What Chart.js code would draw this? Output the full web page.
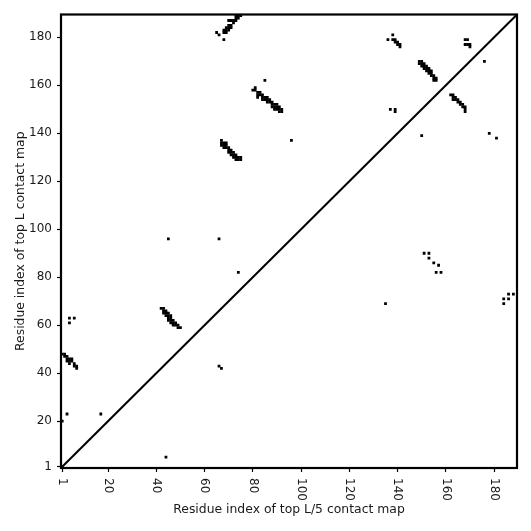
<!DOCTYPE html>
<html>
<head>
<meta charset="utf-8">
<script src="https://cdn.jsdelivr.net/npm/chart.js@4.4.1/dist/chart.umd.min.js"></script>
<style>
  html, body { margin: 0; padding: 0; background: #fff; }
  #wrap { width: 531px; height: 531px; }
</style>
</head>
<body>
<div id="wrap"><canvas id="contact_map"></canvas></div>
<script>
// Sequence length (residues 1..189)
const residueCount = 189;

// Tick positions on both axes
const tickValues = [1, 20, 40, 60, 80, 100, 120, 140, 160, 180];

// Contacts shown above the diagonal (top L), as [i, j]
const topLContacts = [
  [1, 48], [2, 48], [2, 47], [3, 47], [3, 46], [4, 46], [5, 46], [3, 45], [4, 45], [5, 45],
  [4, 44], [6, 44], [6, 43], [7, 43], [7, 42],
  [4, 63], [6, 63], [4, 61], [1, 20], [3, 23], [17, 23],
  [42, 67], [43, 67], [43, 66], [44, 66], [44, 65], [45, 65], [43, 65], [44, 64], [45, 64], [46, 64],
  [45, 63], [46, 63], [45, 62], [46, 62], [47, 62], [46, 61], [47, 61], [48, 61], [47, 60], [48, 60],
  [49, 60], [49, 59], [50, 59],
  [45, 96], [66, 96], [74, 82], [66, 43], [67, 42], [96, 137], [85, 162],
  [67, 137], [67, 136], [68, 136], [69, 136], [67, 135], [68, 135], [69, 135], [68, 134], [69, 134],
  [70, 134], [70, 133], [71, 133], [70, 132], [71, 132], [72, 132], [71, 131], [72, 131], [73, 131],
  [72, 130], [73, 130], [74, 130], [75, 130], [73, 129], [74, 129], [75, 129],
  [80, 158], [81, 158], [81, 159], [82, 157], [83, 157], [82, 156], [83, 156], [84, 156],
  [82, 155], [84, 155], [85, 155], [84, 154], [85, 154], [86, 154], [86, 155], [87, 154], [86, 153],
  [87, 153], [88, 153], [88, 152], [89, 152], [88, 151], [89, 151], [90, 152], [90, 151], [89, 150],
  [90, 150], [91, 151], [91, 150], [92, 150], [92, 149], [91, 149],
  [65, 182], [66, 181], [68, 179], [68, 182], [68, 183], [69, 182], [69, 183], [69, 184], [70, 183],
  [70, 184], [70, 185], [71, 185], [71, 184], [72, 186], [70, 187], [71, 187], [72, 187], [73, 187],
  [73, 188], [73, 189], [74, 189], [75, 189], [74, 188],
  [136, 179], [138, 181], [138, 179], [139, 179], [139, 178], [140, 178], [140, 177], [141, 177], [141, 176],
  [137, 150], [139, 150], [139, 149], [150, 139], [176, 170], [178, 140], [181, 138],
  [149, 170], [150, 170], [149, 169], [150, 169], [151, 169], [150, 168], [151, 168], [152, 168],
  [151, 167], [152, 167], [153, 167], [152, 166], [153, 166], [154, 166], [153, 165], [154, 165],
  [154, 164], [155, 164], [155, 163], [156, 163], [155, 162], [156, 162],
  [162, 156], [163, 156], [163, 155], [164, 155], [164, 154], [165, 154], [163, 154], [165, 153],
  [166, 153], [166, 152], [167, 152], [167, 151], [168, 151], [168, 150], [168, 149],
  [168, 179], [169, 179], [168, 177], [169, 177], [170, 177], [170, 176]
];

// Contacts shown below the diagonal (top L/5), as [i, j]
const topL5Contacts = [
  [44, 5], [135, 69], [151, 90], [153, 90], [153, 88], [155, 86], [157, 85], [156, 82], [158, 82],
  [184, 69], [184, 71], [186, 71], [186, 73], [188, 73]
];

const axisMin = 0.5;
const axisMax = residueCount + 0.5;

const textColor = "#1a1a1a";
Chart.defaults.font.family = "'DejaVu Sans', sans-serif";
Chart.defaults.color = textColor;

// one residue -> one square cell, sized from the x scale
// (a touch larger so neighbouring cells join without grey seams)
function cell_radius(ctx) {
  const sx = ctx.chart.scales.x;
  if (!sx) return 1;
  const side = Math.abs(sx.getPixelForValue(1) - sx.getPixelForValue(0));
  return side * 1.15 * Math.SQRT1_2;
}

function to_points(pairs) {
  return pairs.map(p => ({x: p[0], y: p[1]}));
}

const cell_config = {
  type: "scatter",
  pointStyle: "rect",
  backgroundColor: "#000",
  borderWidth: 0,
  radius: cell_radius,
  hoverRadius: cell_radius
};

// frame on all four sides, like the spines of the original
const frame_plugin = {
  id: "frame",
  afterDraw(chart) {
    const {left, top, width, height} = chart.chartArea;
    const ctx = chart.ctx;
    ctx.save();
    ctx.strokeStyle = "#000";
    ctx.lineWidth = 2.2;
    ctx.strokeRect(left, top, width, height);
    ctx.restore();
  }
};

// x tick labels turned clockwise
const x_labels_plugin = {
  id: "xlabels",
  afterDraw(chart) {
    const sx = chart.scales.x;
    const ctx = chart.ctx;
    ctx.save();
    ctx.font = "12px 'DejaVu Sans'";
    ctx.fillStyle = textColor;
    ctx.textAlign = "left";
    ctx.textBaseline = "middle";
    sx.ticks.forEach(t => {
      ctx.save();
      ctx.translate(sx.getPixelForValue(t.value), chart.chartArea.bottom + 10);
      ctx.rotate(Math.PI / 2);
      ctx.fillText(String(t.value), 0, 0);
      ctx.restore();
    });
    ctx.restore();
  }
};

const set_ticks = scale => { scale.ticks = tickValues.map(v => ({value: v})); };

new Chart(document.getElementById("contact_map").getContext("2d"), {
  type: "scatter",
  data: {
    datasets: [
      {
        ...cell_config,
        label: "top L",
        data: to_points(topLContacts)
      },
      {
        ...cell_config,
        label: "top L/5",
        data: to_points(topL5Contacts)
      },
      {
        type: "line",
        label: "diagonal",
        data: [{x: axisMin, y: axisMin}, {x: axisMax, y: axisMax}],
        borderColor: "#000",
        borderWidth: 2,
        pointRadius: 0,
        fill: false
      }
    ]
  },
  options: {
    responsive: true,
    maintainAspectRatio: false,
    animation: false,
    events: [],
    layout: { padding: {left: 0, top: 14.5, right: 14, bottom: 0} },
    plugins: {
      legend: { display: false },
      tooltip: { enabled: false }
    },
    scales: {
      x: {
        type: "linear",
        min: axisMin,
        max: axisMax,
        afterBuildTicks: set_ticks,
        afterFit: s => { s.height = 63; },
        border: { display: false },
        grid: {
          drawOnChartArea: false,
          drawTicks: true,
          tickLength: 4,
          tickColor: "#000",
          tickWidth: 1.2
        },
        ticks: { display: false },
        title: {
          display: true,
          text: "Residue index of top L/5 contact map",
          font: { size: 12.4 },
          color: textColor,
          padding: { top: 0, bottom: 13.5 }
        }
      },
      y: {
        type: "linear",
        min: axisMin,
        max: axisMax,
        afterBuildTicks: set_ticks,
        afterFit: s => { s.width = 61; },
        border: { display: false },
        grid: {
          drawOnChartArea: false,
          drawTicks: true,
          tickLength: 4,
          tickColor: "#000",
          tickWidth: 1.2
        },
        ticks: {
          font: { size: 12 },
          color: textColor,
          padding: 5,
          callback: v => String(v)
        },
        title: {
          display: true,
          text: "Residue index of top L contact map",
          font: { size: 12.4 },
          color: textColor,
          padding: { top: 13.5, bottom: 0 }
        }
      }
    }
  },
  plugins: [frame_plugin, x_labels_plugin]
});
</script>
</body>
</html>
